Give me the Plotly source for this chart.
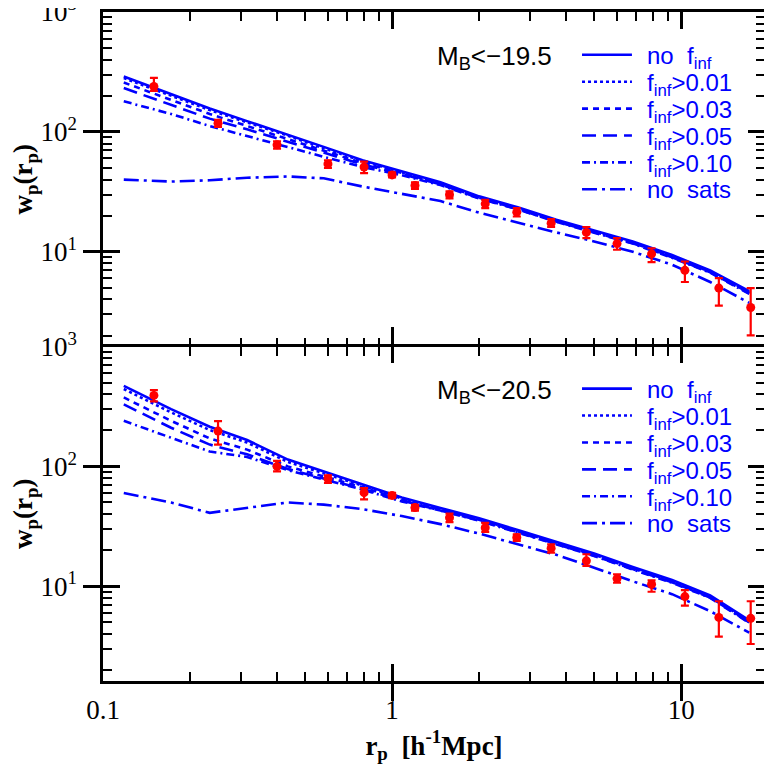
import plotly.graph_objects as go

# measured points (both samples share the same r_p bins)
rp = [0.15, 0.25, 0.40, 0.60, 0.80, 1.0, 1.2, 1.58, 2.1, 2.7, 3.55, 4.7, 6.0, 7.9, 10.3, 13.5, 17.4]

wp_195 = [239, 118, 78, 54, 51, 43.8, 35.7, 29.9, 25.1, 21.4, 17.3, 14.5, 11.7, 9.6, 7.0, 4.98, 3.43]
err_up_195 = [43, 8, 5.5, 4, 5.6, 2, 2.2, 2, 2, 1.7, 1.4, 1.6, 1.3, 1.1, 1.3, 1.06, 1.55]
err_dn_195 = [19, 8, 5.5, 4, 5.7, 2, 2.2, 2, 2, 1.7, 1.2, 1.5, 1.3, 1.4, 1.4, 1.43, 1.42]

wp_205 = [391, 197, 100, 79, 60.4, 57.3, 45.3, 37.3, 30.8, 25.5, 20.8, 16.3, 11.6, 10.4, 8.2, 5.5, 5.4]
err_up_205 = [42, 42, 11, 5, 5.6, 3, 2.5, 3, 3, 1.6, 1.6, 2.2, 1.0, 0.8, 1.1, 2.0, 2.1]
err_dn_205 = [43, 45, 9, 6, 7.4, 3, 2.5, 3, 2.4, 1.6, 1.7, 1.5, 0.9, 1.4, 1.3, 1.7, 2.1]

# model curves
rp_model = [0.118, 0.172, 0.234, 0.315, 0.436, 0.58, 0.79, 1.08, 1.47, 2.0, 2.72, 3.7, 5.0, 6.8, 9.3, 12.6, 17.2]

m195_nof = [290, 207, 157, 123, 95, 75, 58, 47, 38, 29, 23.5, 18.5, 15, 12.2, 9.4, 7.0, 4.7]
m195_f01 = [281, 201, 152, 120, 93, 73, 57, 46, 37, 28.5, 23, 18.2, 14.7, 12.0, 9.2, 6.9, 4.6]
m195_f03 = [258, 186, 141, 112, 87, 70, 55, 45.5, 37, 28.2, 22.8, 18, 14.6, 11.9, 9.1, 6.8, 4.55]
m195_f05 = [232, 168, 129, 105, 83, 67.5, 53.5, 44.5, 36.5, 28, 22.7, 17.9, 14.5, 11.8, 9.0, 6.75, 4.5]
m195_f10 = [180, 141, 112, 92, 74, 62, 51, 43.5, 36, 27.8, 22.6, 17.8, 14.4, 11.7, 8.9, 6.7, 4.45]
m195_nosat = [40, 38.5, 39.5, 41.5, 42.5, 41, 35, 30.5, 26.5, 21.2, 17.5, 14.5, 12.2, 10, 7.8, 5.6, 3.75]

m205_nof = [470, 300, 214, 166, 114, 91, 71, 55, 45, 37, 29.5, 23.5, 18.8, 14.5, 11.3, 8.4, 5.2]
m205_f01 = [442, 282, 201, 158, 109, 88, 69, 54, 44, 36.3, 28.9, 23, 18.4, 14.2, 11.1, 8.2, 5.1]
m205_f03 = [376, 240, 171, 138, 100, 83, 67, 53, 43.6, 35.9, 28.6, 22.8, 18.2, 14.1, 11.0, 8.1, 5.05]
m205_f05 = [329, 210, 152, 126, 95, 79, 65, 52, 43.2, 35.5, 28.3, 22.6, 18.0, 13.9, 10.8, 8.05, 5.0]
m205_f10 = [240, 172, 133, 120, 93, 78, 64, 51, 42.8, 35.2, 28.0, 22.3, 17.9, 13.8, 10.7, 8.0, 4.95]
m205_nosat = [60, 50, 41, 45, 50, 48, 44, 38.5, 33, 27.5, 22.5, 18.3, 14.3, 11, 8.6, 6.2, 4.1]

labels = ["no  f<sub>inf</sub>", "f<sub>inf</sub>&gt;0.01", "f<sub>inf</sub>&gt;0.03",
          "f<sub>inf</sub>&gt;0.05", "f<sub>inf</sub>&gt;0.10", "no  sats"]
dashes = ["solid", "dot", "6px,5px", "14px,7px", "8px,4px,2px,4px", "15px,5px,3px,5px"]
samples = ["M<sub>B</sub>&lt;\u221219.5", "M<sub>B</sub>&lt;\u221220.5"]

x_tickvals = [0.1, 1, 10]
x_ticktext = ["0.1", "1", "10"]
y_tickvals = [10, 100, 1000]
y_ticktext = ["10<sup>1</sup>", "10<sup>2</sup>", "10<sup>3</sup>"]
minor_vals = [m * 10 ** e for e in range(-2, 4) for m in range(2, 10)]

BLUE = "#0000ff"
RED = "#ff0000"
XRANGE = [-1, 1.29]
YRANGE = [0.21, 3]

fig = go.Figure()

panels = [
    ("x", "y", [m195_nof, m195_f01, m195_f03, m195_f05, m195_f10, m195_nosat], wp_195, err_up_195, err_dn_195),
    ("x2", "y2", [m205_nof, m205_f01, m205_f03, m205_f05, m205_f10, m205_nosat], wp_205, err_up_205, err_dn_205),
]

for xa, ya, models, wp, eu, ed in panels:
    for lab, dash, ys in zip(labels, dashes, models):
        fig.add_trace(go.Scatter(
            x=rp_model, y=ys, mode="lines", name=lab, showlegend=False,
            xaxis=xa, yaxis=ya, line=dict(color=BLUE, width=2.6, dash=dash),
        ))
    fig.add_trace(go.Scatter(
        x=rp, y=wp, mode="markers", showlegend=False, xaxis=xa, yaxis=ya,
        marker=dict(color=RED, size=9, symbol="circle"),
        error_y=dict(type="data", symmetric=False, array=eu, arrayminus=ed,
                     color=RED, thickness=2.2, width=4),
    ))

# empty traces so the tick-only overlay axes get drawn
for xa, ya in [("x3", "y"), ("x5", "y"), ("x4", "y2"), ("x", "y3"), ("x2", "y4")]:
    fig.add_trace(go.Scatter(x=[], y=[], xaxis=xa, yaxis=ya, showlegend=False, hoverinfo="skip"))

tickfont = dict(family="Liberation Serif", size=27, color="black")
base = dict(type="log", showgrid=False, zeroline=False, automargin=False,
            tickcolor="black", linecolor="black", linewidth=2.5)
major = dict(ticks="inside", ticklen=17, tickwidth=2.5, tickmode="array")
minor = dict(ticks="inside", ticklen=9, tickwidth=2, tickmode="array",
             tickvals=minor_vals, showticklabels=False, showline=False, mirror="allticks")
title_font = dict(family="Liberation Serif", size=27, color="black")
ytitle = dict(text="<b>w<sub>p</sub>(r<sub>p</sub>)</b>", font=title_font, standoff=4)

fig.update_layout(
    # top panel: outline along the top only, ticks from overlays
    xaxis=dict(**base, range=XRANGE, domain=[0, 1], anchor="y", side="top",
               showline=True, mirror=False, ticks="", showticklabels=False),
    xaxis3=dict(**base, **major, range=XRANGE, overlaying="x", anchor="y",
                tickvals=x_tickvals, showticklabels=False, showline=False, mirror="allticks"),
    xaxis5=dict(**base, **minor, range=XRANGE, overlaying="x", anchor="y"),
    # bottom panel carries the shared boundary line and the labels
    xaxis2=dict(**base, **major, range=XRANGE, domain=[0, 1], anchor="y2",
                showline=True, mirror="allticks", tickvals=x_tickvals, ticktext=x_ticktext,
                tickfont=tickfont, ticklabelstandoff=3,
                title=dict(text="<b>r<sub>p</sub>  [h<sup>-1</sup>Mpc]</b>",
                           font=title_font, standoff=12)),
    xaxis4=dict(**base, **minor, range=XRANGE, overlaying="x2", anchor="y2"),
    yaxis=dict(**base, **major, range=YRANGE, domain=[0.5, 1], anchor="x",
               showline=True, mirror="allticks", tickvals=y_tickvals, ticktext=y_ticktext,
               tickfont=tickfont, ticklabelstandoff=18, ticklabeloverflow="allow", title=ytitle),
    yaxis3=dict(**base, **minor, range=YRANGE, overlaying="y", anchor="x"),
    yaxis2=dict(**base, **major, range=YRANGE, domain=[0, 0.5], anchor="x2",
                showline=True, mirror="allticks", tickvals=y_tickvals, ticktext=y_ticktext,
                tickfont=tickfont, ticklabelstandoff=18, ticklabeloverflow="allow", title=ytitle),
    yaxis4=dict(**base, **minor, range=YRANGE, overlaying="y2", anchor="x2"),
)

# hand-drawn legend blocks (one per panel), in paper coordinates
annotations = []
shapes = []
legend_top = [0.936, 0.437]   # paper y of first legend row in each panel
row_step = 0.0402
for top, sample in zip(legend_top, samples):
    annotations.append(dict(
        text=sample, xref="paper", yref="paper", x=0.502, y=top, yshift=-3,
        xanchor="left", yanchor="middle", showarrow=False,
        font=dict(family="Liberation Sans", size=26, color="black")))
    for i, (lab, dash) in enumerate(zip(labels, dashes)):
        yy = top - i * row_step
        shapes.append(dict(type="line", xref="paper", yref="paper",
                           x0=0.7236, x1=0.799, y0=yy, y1=yy,
                           line=dict(color=BLUE, width=2.6, dash=dash)))
        annotations.append(dict(
            text=lab, xref="paper", yref="paper", x=0.8187, y=yy,
            yshift=-3 if "sub" in lab else 0,
            xanchor="left", yanchor="middle", showarrow=False,
            font=dict(family="Liberation Sans", size=24, color=BLUE)))

# page body adds an 8px margin, so the figure is 8px smaller with trimmed left/top margins
fig.update_layout(
    width=764, height=759,
    margin=dict(l=95, r=7, t=4, b=86),
    plot_bgcolor="white", paper_bgcolor="white",
    showlegend=False,
    annotations=annotations,
    shapes=shapes,
)

fig.write_html("out.html")
